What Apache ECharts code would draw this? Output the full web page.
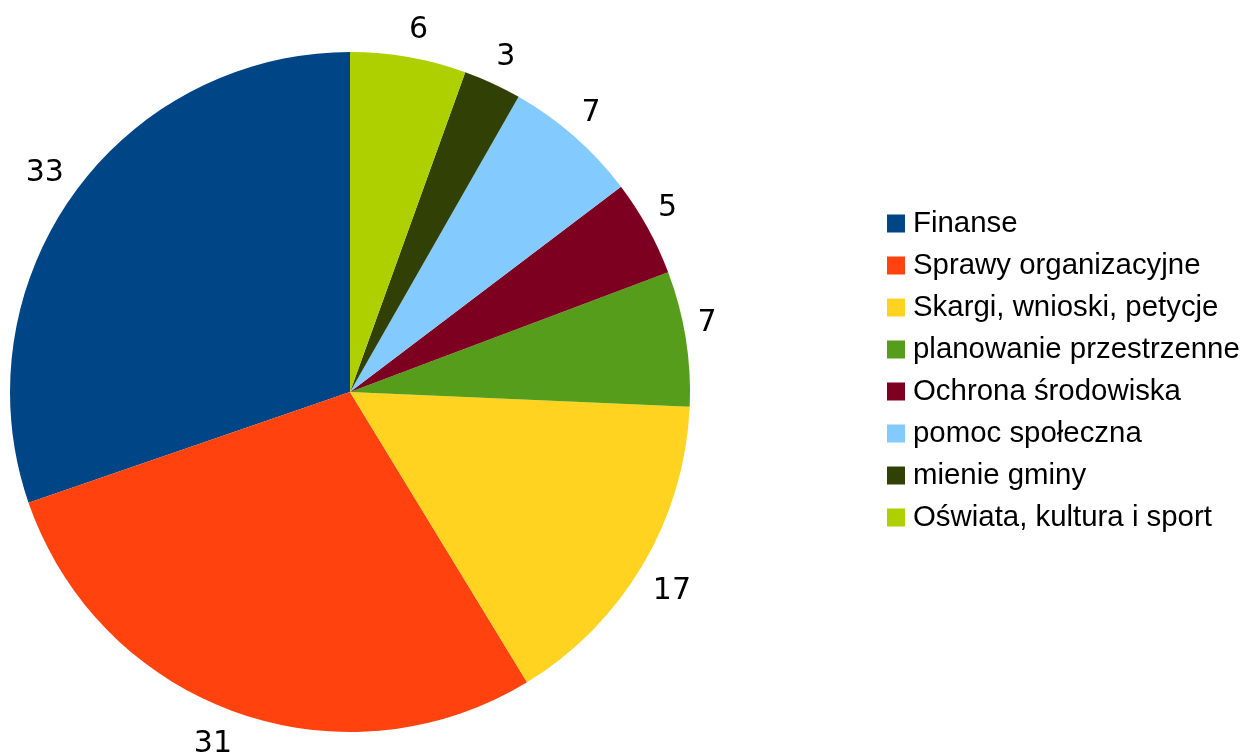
<!DOCTYPE html>
<html>
<head>
<meta charset="utf-8">
<script src="https://cdn.jsdelivr.net/npm/echarts@6/dist/echarts.min.js"></script>
<style>html,body{margin:0;padding:0;background:#fff;}#c{width:1240px;height:753px;}</style>
</head>
<body>
<div id="c"></div>
<script>
const categories = ['Finanse','Sprawy organizacyjne','Skargi, wnioski, petycje','planowanie przestrzenne','Ochrona środowiska','pomoc społeczna','mienie gminy','Oświata, kultura i sport'];
const values = [33,31,17,7,5,7,3,6];
const colors = ['#004586','#ff420e','#ffd320','#579d1c','#7e0021','#83caff','#314004','#aecf00'];

const CX = 350, CY = 392, R = 340;
const data = categories.map((n,i)=>({name:n,value:values[i],itemStyle:{color:colors[i]}}));
const labelData = categories.map((n,i)=>({name:n,value:values[i]}));

const chart = echarts.init(document.getElementById('c'));
chart.setOption({
  animation:false,
  legend:{
    orient:'vertical',
    left:887, top:209,
    padding:0,
    data:categories,
    icon:'rect',
    itemWidth:18, itemHeight:18,
    itemGap:13,
    textStyle:{fontFamily:'Liberation Sans',fontSize:29.4,color:'#000',padding:[0,0,0,3]},
    selectedMode:false
  },
  series:[
    {
      type:'pie',
      center:[CX,CY],
      radius:[0,R],
      startAngle:90,
      clockwise:false,
      label:{show:false},
      labelLine:{show:false},
      emphasis:{disabled:true},
      data:data
    },
    {
      type:'pie',
      center:[CX,CY],
      radius:[R,R+22],
      startAngle:90,
      clockwise:false,
      silent:true,
      legendHoverLink:false,
      itemStyle:{color:'rgba(0,0,0,0)'},
      label:{show:true,position:'inside',formatter:'{c}',color:'#000',fontFamily:'DejaVu Sans',fontSize:30},
      labelLine:{show:false},
      labelLayout:function(p){
        const r = p.labelRect;
        const mx = r.x + r.width/2, my = r.y + r.height/2;
        const sx = mx >= CX ? 1 : -1;
        const sy = my >= CY ? 1 : -1;
        return {dx: sx*(r.width/2-2), dy: sy < 0 ? -(r.height/2-2) : (r.height/2+4)};
      },
      emphasis:{disabled:true},
      data:labelData
    }
  ]
});
</script>
</body>
</html>
